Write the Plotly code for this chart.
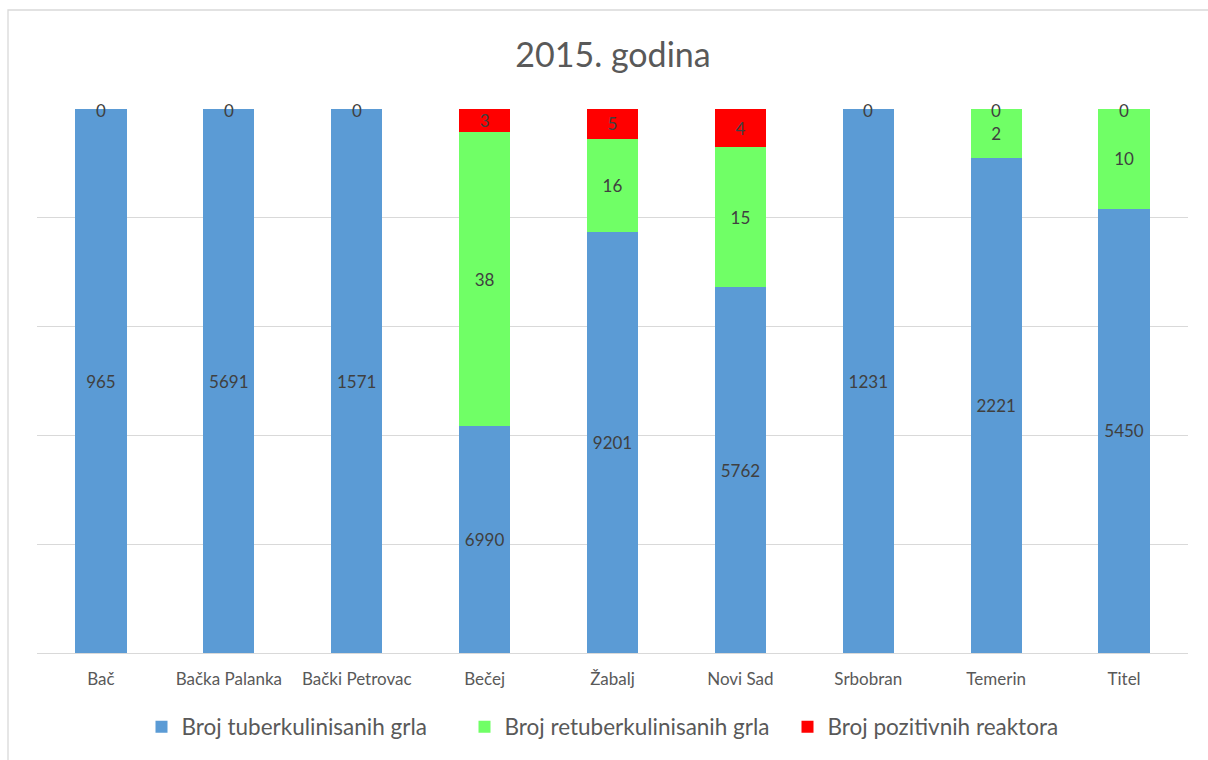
import plotly.graph_objects as go

categories = ["Bač", "Bačka Palanka", "Bački Petrovac", "Bečej", "Žabalj",
              "Novi Sad", "Srbobran", "Temerin", "Titel"]

# data labels as printed on the chart
labels_tuberkulinisanih = [965, 5691, 1571, 6990, 9201, 5762, 1231, 2221, 5450]
labels_retuberkulinisanih = [0, 0, 0, 38, 16, 15, 0, 2, 10]
labels_pozitivnih = [0, 0, 0, 3, 5, 4, 0, 0, 0]

# segment shares (%) as drawn in the 100% stacked chart
share_tuberkulinisanih = [100, 100, 100, 41.7, 77.3, 67.2, 100, 91.0, 81.7]
share_retuberkulinisanih = [0, 0, 0, 54.1, 17.2, 25.8, 0, 9.0, 18.3]
share_pozitivnih = [0, 0, 0, 4.2, 5.5, 7.0, 0, 0, 0]

series = [
    ("Broj tuberkulinisanih grla", share_tuberkulinisanih, labels_tuberkulinisanih, "#5B9BD5"),
    ("Broj retuberkulinisanih grla", share_retuberkulinisanih, labels_retuberkulinisanih, "#70FF66"),
    ("Broj pozitivnih reaktora", share_pozitivnih, labels_pozitivnih, "#FF0000"),
]

FONT = "Lato"
TXT = "#595959"
LBL = "#404040"

fig = go.Figure()
for name, shares, labels, color in series:
    fig.add_trace(go.Bar(
        x=categories, y=shares, name=name,
        marker=dict(color=color, line=dict(width=0)),
        text=[str(v) if s > 0 else "" for v, s in zip(labels, shares)],
        textposition="inside", insidetextanchor="middle", textangle=0,
        constraintext="none",
        textfont=dict(family=FONT, size=17, color=LBL),
    ))

# labels of zero-height segments sit at the top of their stack
annotations = []
seen = set()
for i, cat in enumerate(categories):
    cum = 0
    for name, shares, labels, color in series:
        cum += shares[i]
        if shares[i] == 0:
            key = (cat, round(cum, 3))
            if key in seen:
                continue
            seen.add(key)
            annotations.append(dict(
                x=cat, y=cum, xref="x", yref="y", text=str(labels[i]),
                showarrow=False, yanchor="middle", yshift=-1,
                font=dict(family=FONT, size=17, color=LBL)))

L, R, T, B = 37, 20, 109, 107
W, H = 1208, 760
pw, ph = W - L - R, H - T - B

def px_x(p):
    return (p - L) / pw

def px_y(p):
    return (H - B - p) / ph

fig.update_layout(
    width=W, height=H,
    margin=dict(l=L, r=R, t=T, b=B),
    paper_bgcolor="white", plot_bgcolor="white",
    barmode="stack", bargap=0.6,
    title=dict(text="2015. godina", x=613 / W, xanchor="center",
               y=1 - 55 / H, yanchor="middle",
               font=dict(family=FONT, size=34, color=TXT)),
    xaxis=dict(showline=True, linecolor="#D9D9D9", linewidth=1.3,
               ticks="", ticklabelstandoff=10,
               tickfont=dict(family=FONT, size=17, color=TXT),
               showgrid=False),
    yaxis=dict(range=[0, 100], dtick=20, showticklabels=False,
               gridcolor="#D9D9D9", gridwidth=1.3, zeroline=False, ticks=""),
    legend=dict(orientation="h", x=px_x(626), xanchor="center",
                y=px_y(727), yanchor="middle",
                font=dict(family=FONT, size=22.5, color=TXT),
                itemwidth=30, traceorder="normal",
                entrywidth=278, entrywidthmode="pixels"),
    annotations=annotations,
    shapes=[dict(type="rect", xref="paper", yref="paper",
                 x0=px_x(8), x1=px_x(W + 10), y0=px_y(H + 10), y1=px_y(10),
                 line=dict(color="#D9D9D9", width=1.3), layer="below")],
    showlegend=True,
)

fig.write_html("out.html")
